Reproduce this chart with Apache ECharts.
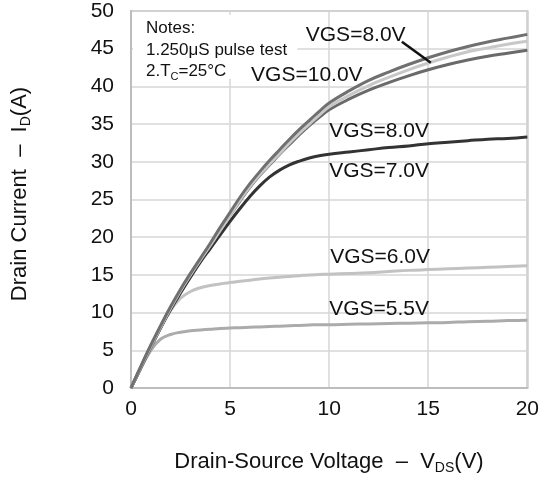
<!DOCTYPE html>
<html>
<head>
<meta charset="utf-8">
<script src="https://cdn.jsdelivr.net/npm/echarts@6/dist/echarts.min.js"></script>
<style>
html,body{margin:0;padding:0;background:#fff;}
#chart{width:542px;height:481px;}
</style>
</head>
<body>
<div id="chart"></div>
<script>
// Drain-source voltage sample points (V)
var vds = [0,0.5,1,1.5,2,2.5,3,3.5,4,4.5,5,5.5,6,6.5,7,7.5,8,8.5,9,9.5,10,11,12,13,14,15,16,17,18,19,20];
// Drain current (A) for each curve
var idTop   = [0,2.9,5.7,8.3,10.8,13.1,15.2,17.2,19.2,21.3,23.3,25.3,27.1,28.7,30.2,31.6,33.0,34.3,35.5,36.7,37.8,39.4,40.8,41.9,42.9,43.8,44.6,45.3,45.9,46.4,46.9];
var idLight = [0,2.8,5.5,8.1,10.6,12.9,15.0,17.0,18.9,20.9,22.9,24.9,26.7,28.3,29.7,31.1,32.5,33.8,35.0,36.2,37.3,38.8,40.1,41.2,42.2,43.1,43.9,44.6,45.1,45.6,46.0];
var id10V   = [0,2.8,5.5,8.1,10.6,12.9,15.0,17.0,18.9,20.9,22.9,24.8,26.6,28.2,29.6,31.0,32.3,33.6,34.8,35.9,36.9,38.3,39.5,40.5,41.4,42.2,42.9,43.5,44.0,44.4,44.8];
var id7V    = [0,2.7,5.4,8.0,10.4,12.6,14.7,16.7,18.5,20.3,22.1,23.8,25.4,26.8,28.0,28.9,29.6,30.1,30.5,30.8,31.0,31.3,31.6,31.9,32.1,32.4,32.6,32.8,33.0,33.1,33.3];
var id6V    = [0,2.7,5.4,8.0,10.3,11.9,12.8,13.3,13.6,13.8,14.0,14.15,14.3,14.45,14.6,14.7,14.8,14.9,15.0,15.05,15.1,15.2,15.3,15.45,15.6,15.7,15.8,15.9,16.0,16.1,16.2];
var id55V   = [0,2.6,5.0,6.5,7.1,7.4,7.6,7.7,7.8,7.9,7.95,8.0,8.05,8.1,8.15,8.2,8.25,8.3,8.35,8.4,8.4,8.45,8.5,8.55,8.6,8.65,8.7,8.8,8.85,8.95,9.0];
// Axis ticks
var xTicks = [0,5,10,15,20];
var yTicks = [0,5,10,15,20,25,30,35,40,45,50];
// Curve labels (text, VDS, ID anchor)
var labelTexts = ['VGS=8.0V','VGS=10.0V','VGS=8.0V','VGS=7.0V','VGS=6.0V','VGS=5.5V'];
var labelX = [8.82, 6.06, 10.0, 10.0, 10.05, 10.0];
var labelY = [46.85, 41.55, 34.0, 28.7, 17.3, 10.5];
// Pointer line from top label to curve
var pointerX = [13.67, 15.13];
var pointerY = [45.93, 43.14];
// Notes box extent (data coords)
var notesBoxX = [0.1, 8.4];
var notesBoxY = [49.5, 41.0];

function pairs(ys){ return vds.map(function(v,i){ return [v, ys[i]]; }); }

var FONT = '"Liberation Sans", Arial, sans-serif';
var chart = echarts.init(document.getElementById('chart'), null, {renderer:'canvas'});

function mkSeries(name, ys, color, z){
  return {
    name: name, type:'line', data: pairs(ys), smooth: 0.4,
    symbol:'none', z: z,
    lineStyle:{color: color, width: 3}
  };
}

chart.setOption({
  animation:false,
  backgroundColor:'#ffffff',
  grid:{left:131, right:13, top:11, bottom:93, show:true, borderColor:'#c4c4c4', borderWidth:2, backgroundColor:'transparent'},
  xAxis:{
    type:'value', min:0, max:20, interval:5,
    axisLine:{show:true, lineStyle:{color:'#bdbdbd', width:2}},
    axisTick:{show:false},
    splitLine:{show:true, lineStyle:{color:'#d6d6d6', width:1.5}},
    axisLabel:{color:'#111', fontFamily:FONT, fontSize:21, margin:11,
      formatter:function(v){ return xTicks.indexOf(v)>=0 ? String(v) : ''; }}
  },
  yAxis:{
    type:'value', min:0, max:50, interval:5,
    axisLine:{show:true, lineStyle:{color:'#bdbdbd', width:2}},
    axisTick:{show:false},
    splitLine:{show:true, lineStyle:{color:'#d6d6d6', width:1.5}},
    axisLabel:{color:'#111', fontFamily:FONT, fontSize:21, margin:17,
      formatter:function(v){ return yTicks.indexOf(v)>=0 ? String(v) : ''; }}
  },
  series:[
    mkSeries('VGS=5.5V', id55V, '#ababab', 2),
    mkSeries('VGS=6.0V', id6V, '#c2c2c2', 2),
    mkSeries('VGS=7.0V', id7V, '#333333', 3),
    mkSeries('VGS=10.0V', id10V, '#6a6a6a', 4),
    mkSeries('VGS=8.0V b', idLight, '#c8c8c8', 5),
    mkSeries('VGS=8.0V', idTop, '#707070', 6)
  ]
});

function px(x,y){ return chart.convertToPixel({gridIndex:0},[x,y]); }

var g = [];
// Notes box
var b0 = px(notesBoxX[0], notesBoxY[0]), b1 = px(notesBoxX[1], notesBoxY[1]);
g.push({type:'rect', z:10, shape:{x:b0[0], y:b0[1], width:b1[0]-b0[0], height:b1[1]-b0[1]}, style:{fill:'#ffffff'}});
var noteRich = {
  n:{fontFamily:FONT, fontSize:17, fill:'#111', lineHeight:21.5},
  s:{fontFamily:FONT, fontSize:11, fill:'#111', lineHeight:21.5, verticalAlign:'bottom', padding:[6,0,0,0]}
};
g.push({type:'text', z:11, x:b0[0]+13, y:b0[1]+3,
  style:{text:'{n|Notes:}\n{n|1.250\u03bcS pulse test}\n{n|2.T}{s|C}{n|=25\u00b0C}', rich:noteRich, fill:'#111', font:'17px '+FONT}});
// Curve labels
for (var i=0;i<labelTexts.length;i++){
  var p = px(labelX[i], labelY[i]);
  g.push({type:'text', z:12, x:p[0], y:p[1],
    style:{text:labelTexts[i], fill:'#111', font:'21px '+FONT, textAlign:'left', textVerticalAlign:'middle'}});
}
// Pointer line
var q0 = px(pointerX[0], pointerY[0]), q1 = px(pointerX[1], pointerY[1]);
g.push({type:'line', z:12, shape:{x1:q0[0], y1:q0[1], x2:q1[0], y2:q1[1]}, style:{stroke:'#111', lineWidth:2.5}});
// Axis titles
var axRich = {
  a:{fontFamily:FONT, fontSize:22, fill:'#111', lineHeight:26},
  s:{fontFamily:FONT, fontSize:14, fill:'#111', lineHeight:26, verticalAlign:'bottom', padding:[8,0,0,0]}
};
g.push({type:'text', z:12, x:329, y:462,
  style:{text:'{a|Drain-Source Voltage  \u2013  V}{s|DS}{a|(V)}', rich:axRich, textAlign:'center', textVerticalAlign:'middle'}});
g.push({type:'text', z:12, x:20, y:194, rotation:Math.PI/2,
  style:{text:'{a|Drain Current  \u2013  I}{s|D}{a|(A)}', rich:axRich, textAlign:'center', textVerticalAlign:'middle'}});

chart.setOption({graphic:g});
</script>
</body>
</html>
